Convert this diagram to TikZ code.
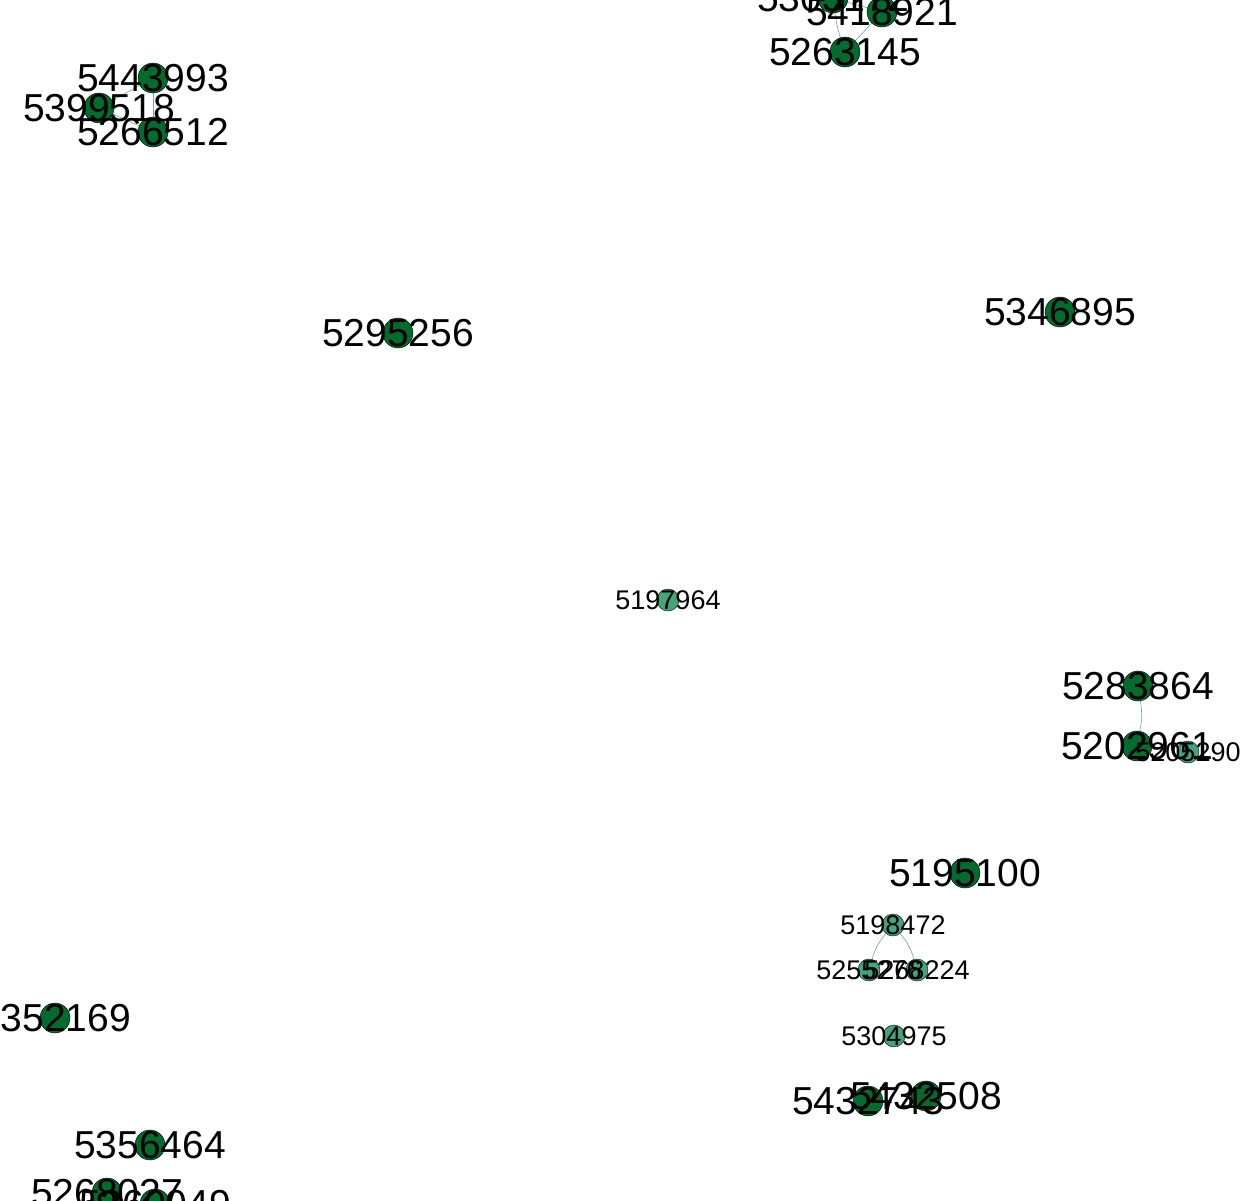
\documentclass[tikz,border=0pt]{standalone}
\usepackage{fontspec}
\setmainfont{Liberation Sans}
\usetikzlibrary{backgrounds}
\definecolor{dkgreen}{HTML}{046A2E}
\definecolor{ltgreen}{HTML}{45A37E}
\definecolor{edgecol}{HTML}{6FA98C}
\tikzset{
  bignode/.style={circle, fill=dkgreen, draw=black, line width=0.4pt, minimum size=30pt, inner sep=0pt},
  smallnode/.style={circle, fill=ltgreen, draw=black, line width=0.4pt, minimum size=22pt, inner sep=0pt},
  biglbl/.style={font=\fontsize{39}{39}\selectfont, inner sep=0pt, text=black},
  smalllbl/.style={font=\fontsize{27}{27}\selectfont, inner sep=0pt, text=black},
  edge/.style={draw=edgecol, line width=0.6pt}
}
\begin{document}
\begin{tikzpicture}[x=1pt,y=-1pt]
\useasboundingbox (0,0) rectangle (1240,1200);
% nodes
\node[bignode] (n5303172) at (833,-2) {};
\node[bignode] (n5418921) at (882,12) {};
\node[bignode] (n5263145) at (845,52) {};
\node[bignode] (n5443993) at (153,78) {};
\node[bignode] (n5399518) at (99,108) {};
\node[bignode] (n5266512) at (153,132) {};
\node[bignode] (n5295256) at (398,333) {};
\node[bignode] (n5346895) at (1060,312) {};
\node[smallnode] (n5197964) at (668,600) {};
\node[bignode] (n5283864) at (1138,686) {};
\node[bignode] (n5202961) at (1137,746) {};
\node[smallnode] (n5205290) at (1188,752) {};
\node[bignode] (n5195100) at (965,873) {};
\node[smallnode] (n5198472) at (893,925) {};
\node[smallnode] (n5255276) at (869,970) {};
\node[smallnode] (n5268224) at (917,970) {};
\node[smallnode] (n5304975) at (894,1036) {};
\node[bignode] (n5432743) at (868,1101) {};
\node[bignode] (n5432508) at (926,1096) {};
\node[bignode] (n5352169) at (55,1018) {};
\node[bignode] (n5356464) at (150,1145) {};
\node[bignode] (n5268027) at (107,1193) {};
\node[bignode] (n5260049) at (155,1204) {};
% edges
\begin{scope}[on background layer]
\draw[edge] (n5263145) -- (n5418921);
\draw[edge] (n5263145) to[bend left=5] (n5303172);
\draw[edge] (n5418921) -- (n5303172);
\draw[edge] (n5399518) -- (n5443993);
\draw[edge] (n5399518) -- (n5266512);
\draw[edge] (n5443993) -- (n5266512);
\draw[edge] (n5283864) to[bend left=10] (n5202961);
\draw[edge] (n5198472) to[bend right=12] (n5255276);
\draw[edge] (n5198472) to[bend left=12] (n5268224);
\end{scope}
% labels
\node[biglbl] at (n5303172) {5303172};
\node[biglbl] at (n5418921) {5418921};
\node[biglbl] at (n5263145) {5263145};
\node[biglbl] at (n5443993) {5443993};
\node[biglbl] at (n5399518) {5399518};
\node[biglbl] at (n5266512) {5266512};
\node[biglbl] at (n5295256) {5295256};
\node[biglbl] at (n5346895) {5346895};
\node[smalllbl] at (n5197964) {5197964};
\node[biglbl] at (n5283864) {5283864};
\node[biglbl] at (n5202961) {5202961};
\node[smalllbl] at (n5205290) {5205290};
\node[biglbl] at (n5195100) {5195100};
\node[smalllbl] at (n5198472) {5198472};
\node[smalllbl] at (n5255276) {5255276};
\node[smalllbl] at (n5268224) {5268224};
\node[smalllbl] at (n5304975) {5304975};
\node[biglbl] at (n5432743) {5432743};
\node[biglbl] at (n5432508) {5432508};
\node[biglbl] at (n5352169) {5352169};
\node[biglbl] at (n5356464) {5356464};
\node[biglbl] at (n5268027) {5268027};
\node[biglbl] at (n5260049) {5260049};
\end{tikzpicture}
\end{document}
